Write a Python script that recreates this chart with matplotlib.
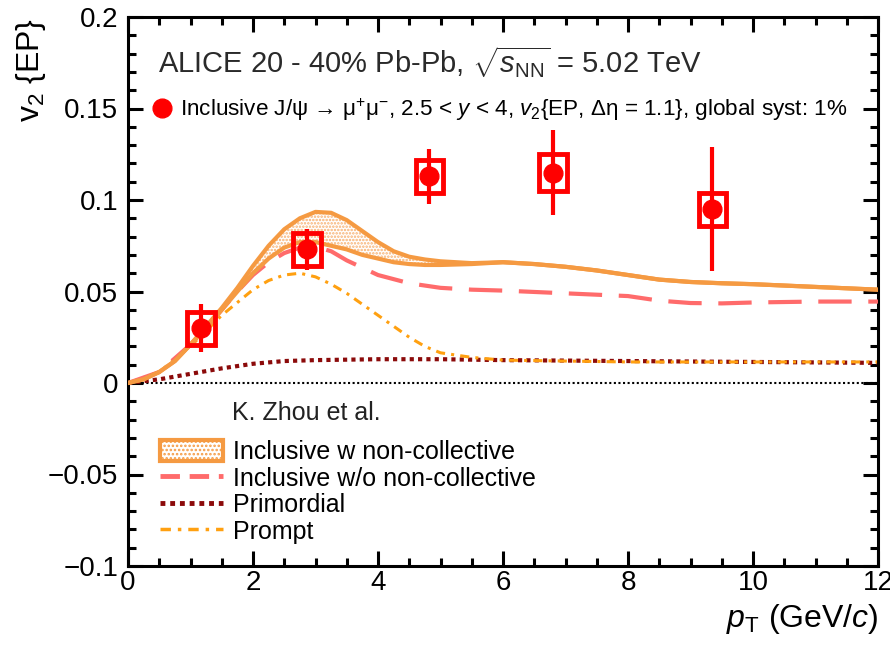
import matplotlib
matplotlib.use('Agg')
import matplotlib.pyplot as plt
from matplotlib.lines import Line2D
from matplotlib.patches import Patch, Rectangle
from matplotlib.ticker import MultipleLocator, FixedLocator, FixedFormatter

plt.rcParams['font.family'] = ['Liberation Sans', 'DejaVu Sans']
plt.rcParams['mathtext.fontset'] = 'custom'
plt.rcParams['mathtext.rm'] = 'Liberation Sans'
plt.rcParams['mathtext.it'] = 'Liberation Sans:italic'
plt.rcParams['mathtext.bf'] = 'Liberation Sans:bold'
plt.rcParams['hatch.linewidth'] = 1.2

# --- ALICE data: inclusive J/psi v2{EP}, 20-40% ---
pt_data = [1.17, 2.86, 4.82, 6.80, 9.35]
v2_data = [0.030, 0.073, 0.113, 0.115, 0.095]
v2_stat = [0.013, 0.011, 0.015, 0.023, 0.034]
v2_syst = [0.009, 0.009, 0.009, 0.010, 0.009]

# --- K. Zhou et al. model curves ---
pt_band = [0, 0.25, 0.5, 0.75, 1.0, 1.25, 1.5, 1.75, 2.0, 2.25, 2.5, 2.75, 3.0,
           3.25, 3.5, 3.75, 4.0, 4.25, 4.5, 4.75, 5.0, 5.5, 6.0, 6.5, 7.0, 7.5,
           8.0, 8.5, 9.0, 9.5, 10, 11, 12]
band_high = [0, 0.002, 0.006, 0.012, 0.021, 0.031, 0.041, 0.052, 0.064, 0.075,
             0.084, 0.090, 0.0935, 0.093, 0.089, 0.083, 0.077, 0.072, 0.069,
             0.0675, 0.0665, 0.0655, 0.066, 0.065, 0.0635, 0.0615, 0.059,
             0.0565, 0.0552, 0.0545, 0.054, 0.0525, 0.051]
band_low = [0, 0.002, 0.006, 0.012, 0.021, 0.030, 0.040, 0.050, 0.060, 0.068,
            0.074, 0.077, 0.077, 0.075, 0.073, 0.070, 0.068, 0.066, 0.065,
            0.0645, 0.0645, 0.0650, 0.066, 0.065, 0.0635, 0.0615, 0.059,
            0.0565, 0.0552, 0.0545, 0.054, 0.0525, 0.051]

pt_nocoll = [0, 0.5, 1.0, 1.25, 1.5, 1.75, 2.0, 2.25, 2.5, 2.75, 3.0, 3.25, 3.5,
             4.0, 4.5, 5.0, 5.5, 6.0, 7.0, 8.0, 8.5, 9.0, 9.5, 10, 11, 12]
v2_nocoll = [0, 0.006, 0.021, 0.030, 0.040, 0.050, 0.059, 0.066, 0.071, 0.074,
             0.0745, 0.072, 0.067, 0.059, 0.0545, 0.052, 0.051, 0.0505, 0.049,
             0.0475, 0.045, 0.0437, 0.0435, 0.044, 0.0445, 0.0445]

pt_prompt = [0, 0.5, 1.0, 1.5, 2.0, 2.25, 2.5, 2.75, 3.0, 3.25, 3.5, 3.75, 4.0,
             4.25, 4.5, 4.75, 5.0, 5.5, 6.0, 7.0, 8.0, 9.0, 10, 12]
v2_prompt = [0, 0.006, 0.020, 0.037, 0.051, 0.056, 0.059, 0.060, 0.058, 0.054,
             0.049, 0.043, 0.037, 0.031, 0.025, 0.020, 0.0165, 0.014, 0.0125,
             0.012, 0.0115, 0.0115, 0.0115, 0.0115]

pt_prim = [0, 0.5, 1.0, 1.5, 2.0, 2.5, 3.0, 4.0, 5.0, 6.0, 8.0, 10, 12]
v2_prim = [0, 0.002, 0.005, 0.008, 0.0105, 0.012, 0.0125, 0.013, 0.013,
           0.0125, 0.012, 0.0115, 0.011]

ytick_vals = [-0.1, -0.05, 0, 0.05, 0.1, 0.15, 0.2]
ytick_labels = ['\u22120.1', '\u22120.05', '0', '0.05', '0.1', '0.15', '0.2']

c_band = '#f59a42'
c_nocoll = '#ff6b6b'
c_prim = '#8b0a0a'
c_prompt = '#ffa010'
c_data = '#ff0000'

fig = plt.figure(figsize=(8.9, 6.53), dpi=100)
ax = fig.add_axes([128 / 890, 1 - 566 / 653, 750 / 890, 549 / 653])

ax.axhline(0, color='black', lw=1.5, ls=(0, (1, 1.2)), zorder=1)

ax.plot(pt_prim, v2_prim, color=c_prim, lw=3, ls=(0, (1, 1)), zorder=2)
ax.plot(pt_prompt, v2_prompt, color=c_prompt, lw=2.2, ls=(0, (3, 2, 1, 2)), zorder=2)
ax.plot(pt_nocoll, v2_nocoll, color=c_nocoll, lw=3, ls=(0, (8, 4)), zorder=3)

ax.fill_between(pt_band, band_low, band_high, facecolor='none', edgecolor='#f7b070',
                hatch='.....', lw=0, zorder=3)
ax.plot(pt_band, band_high, color=c_band, lw=3, zorder=4)
ax.plot(pt_band, band_low, color=c_band, lw=3, zorder=4)

# data: stat error bars, syst boxes, points
ax.errorbar(pt_data, v2_data, yerr=v2_stat, fmt='o', color=c_data, ms=13.5,
            elinewidth=3, capsize=0, zorder=6)
box_hw = 0.22
for x, y, s in zip(pt_data, v2_data, v2_syst):
    ax.add_patch(Rectangle((x - box_hw, y - s), 2 * box_hw, 2 * s, fill=False,
                           edgecolor=c_data, lw=3.5, zorder=5))

ax.set_xlim(0, 12)
ax.set_ylim(-0.1, 0.2)
ax.xaxis.set_major_locator(MultipleLocator(2))
ax.xaxis.set_minor_locator(MultipleLocator(0.5))
ax.yaxis.set_major_locator(FixedLocator(ytick_vals))
ax.yaxis.set_major_formatter(FixedFormatter(ytick_labels))
ax.yaxis.set_minor_locator(MultipleLocator(0.01))
ax.tick_params(which='both', direction='in', top=True, right=True, width=2.2)
ax.tick_params(which='major', length=11, labelsize=20)
ax.tick_params(axis='y', which='major', pad=7)
ax.tick_params(axis='x', which='major', pad=3)
ax.tick_params(which='minor', length=6)
for sp in ax.spines.values():
    sp.set_linewidth(2.2)

ax.set_xlabel('$p_{\\rm T}$ (GeV/$c$)', fontsize=23, loc='right', labelpad=4)
fig.text(31 / 890, 1 - 18 / 653, 'v$_{2}$ {EP}', rotation=90, fontsize=23,
         ha='center', va='top')

ax.text(0.04, 0.918, 'ALICE 20 - 40% Pb-Pb, $\\sqrt{s_{\\rm NN}}$ = 5.02 TeV',
        transform=ax.transAxes, fontsize=21, va='center', ha='left', color='#2a2a2a')

data_handle = Line2D([], [], marker='o', color=c_data, ms=13.5, ls='none')
leg1 = ax.legend([data_handle],
                 ['Inclusive J/\u03c8 \u2192 \u03bc$^{+}$\u03bc$^{-}$, 2.5 < $y$ < 4, '
                  '$v_{2}${EP, \u0394\u03b7 = 1.1}, global syst: 1%'],
                 loc='center left', bbox_to_anchor=(0.033, 0.8306), frameon=False,
                 fontsize=16.2, handlelength=0.8, handletextpad=0.4, borderpad=0,
                 borderaxespad=0)
ax.add_artist(leg1)

ax.text(0.139, 0.279, 'K. Zhou et al.', transform=ax.transAxes, fontsize=18,
        va='center', ha='left', color='#222222')

handles = [Patch(facecolor='white', edgecolor=c_band, hatch='....', lw=3),
           Line2D([], [], color=c_nocoll, lw=3.5, ls=(0, (4, 2))),
           Line2D([], [], color=c_prim, lw=3.5, ls=(0, (1, 1))),
           Line2D([], [], color=c_prompt, lw=2.5, ls=(0, (3, 2, 1, 2)))]
labels = ['Inclusive w non-collective', 'Inclusive w/o non-collective',
          'Primordial', 'Prompt']
ax.legend(handles, labels, loc='upper left', bbox_to_anchor=(0.043, 0.2295),
          frameon=False, fontsize=18, handlelength=2.5, handleheight=0.9,
          handletextpad=0.4, labelspacing=0.1, borderpad=0, borderaxespad=0)

fig.savefig('out.png', dpi=100)
